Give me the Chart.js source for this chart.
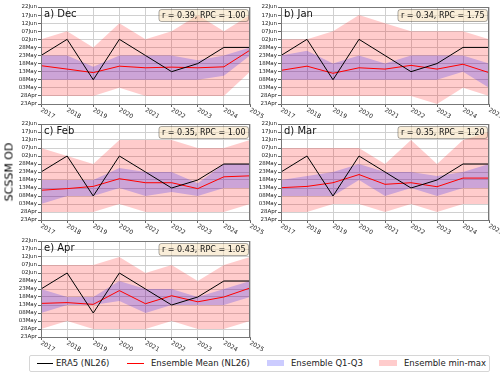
<!DOCTYPE html>
<html>
<head>
<meta charset="utf-8">
<script src="https://cdn.jsdelivr.net/npm/chart.js@4.4.1/dist/chart.umd.min.js"></script>
<style>
  body { margin: 0; background: #fff; font-family: "DejaVu Sans", sans-serif; }
  #wrap { position: relative; width: 500px; height: 377px; overflow: hidden; }
  canvas { position: absolute; }
  #ytitle { position: absolute; left: 8.5px; top: 172px; transform: translate(-50%, -50%) rotate(-90deg);
    font-size: 11px; white-space: nowrap; color: #000; }
  #legend { position: absolute; left: 29px; top: 355px; width: 459px; height: 15px;
    border: 1px solid #d6d6d6; border-radius: 2px; background: #fff; }
  .lg { position: absolute; top: 0; font-size: 8.5px; line-height: 15px; color: #222; white-space: nowrap; }
  .ln { position: absolute; height: 0; top: 7px; border-top: 1px solid; }
  .pt { position: absolute; height: 6px; top: 4px; }
</style>
</head>
<body>
<div id="wrap">
  <canvas id="pa"></canvas>
  <canvas id="pb"></canvas>
  <canvas id="pc"></canvas>
  <canvas id="pd"></canvas>
  <canvas id="pe"></canvas>
  <div id="ytitle">SCSSM OD</div>
  <div id="legend">
    <div class="ln" style="left:7px;width:16px;border-color:#000"></div>
    <div class="lg" style="left:26px">ERA5 (NL26)</div>
    <div class="ln" style="left:97px;width:17px;border-color:#ff0000"></div>
    <div class="lg" style="left:121px">Ensemble Mean (NL26)</div>
    <div class="pt" style="left:237px;width:17px;background:rgba(0,0,255,0.2)"></div>
    <div class="lg" style="left:261px">Ensemble Q1-Q3</div>
    <div class="pt" style="left:349px;width:18px;background:rgba(255,0,0,0.2)"></div>
    <div class="lg" style="left:374px">Ensemble min-max</div>
  </div>
</div>
<script>
// onset dates as days after 23 Apr
const years = ["2017", "2018", "2019", "2020", "2021", "2022", "2023", "2024", "2025"];
const era5 = [30, 40, 15, 40, 30, 20, 25, 35, 35];

const titles = ["a) Dec", "b) Jan", "c) Feb", "d) Mar", "e) Apr"];
const rValues = [0.39, 0.34, 0.35, 0.35, 0.43];
const rpcValues = [1.00, 1.75, 1.00, 1.20, 1.05];

const decMean = [23.7, 21.6, 19.4, 23.4, 22.4, 22.8, 22.4, 23, 33.3];
const decQ1 = [15, 15, 15, 15, 15, 15, 15, 17.5, 30];
const decQ3 = [30, 30, 23, 30, 30, 30, 27, 30, 35];
const decMin = [5, 5, 5, 10, 5, 5, 5, 5, 20];
const decMax = [40, 45, 35, 50, 40, 45, 55, 45, 55];

const janMean = [20.8, 23.4, 19, 22.4, 21.6, 23.9, 21.6, 24.6, 19.4];
const janQ1 = [15, 15, 15, 15, 15, 15, 15, 20, 10];
const janQ3 = [30, 33, 25, 30, 25, 30, 30, 30, 25];
const janMin = [5, 5, 5, 5, 5, 5, 0, 10, 5];
const janMax = [40, 40, 45, 55, 50, 45, 45, 45, 40];

const febMean = [18.6, 19.6, 21, 25.8, 23.3, 23.3, 19.6, 27, 27.6];
const febQ1 = [10, 15, 15, 20, 15, 17.5, 15, 20, 20];
const febQ3 = [25, 25, 25, 32.5, 30, 30, 23, 35, 35];
const febMin = [5, 5, 5, 10, 5, 5, 5, 5, 10];
const febMax = [45, 40, 35, 50, 50, 50, 45, 45, 50];

const marMean = [20.2, 21, 23.3, 28.4, 22.3, 23.3, 20.8, 26.2, 26.2];
const marQ1 = [15, 15, 15, 25, 15, 20, 15, 20, 20];
const marQ3 = [25, 27.5, 30, 35, 30, 30, 27.5, 30, 35];
const marMin = [5, 5, 10, 10, 5, 10, 5, 10, 10];
const marMax = [45, 45, 45, 45, 35, 50, 35, 50, 55];

const aprMean = [21, 21.5, 20.4, 29, 20.8, 25.8, 22, 25, 30.6];
const aprQ1 = [15, 20, 20, 22.5, 15, 20, 20, 20, 25];
const aprQ3 = [30, 25, 25, 35, 30, 30, 25, 30, 35];
const aprMin = [5, 10, 5, 5, 5, 10, 5, 5, 10];
const aprMax = [45, 45, 45, 50, 40, 45, 35, 45, 50];

const months = ["Jan", "Feb", "Mar", "Apr", "May", "Jun", "Jul"];
function dayLabel(v) {
  const d = new Date(2001, 3, 23 + v);
  return String(d.getDate()).padStart(2, "0") + months[d.getMonth()];
}

// canvas box and plot area (page px)
const panels = [
  { id: "pa", cx: 0,   cy: 0,   cw: 270, ch: 118, l: 41,  t: 7,   r: 250, b: 104, d: [decMean, decQ1, decQ3, decMin, decMax] },
  { id: "pb", cx: 252, cy: 0,   cw: 248, ch: 118, l: 281, t: 7,   r: 489, b: 104, d: [janMean, janQ1, janQ3, janMin, janMax] },
  { id: "pc", cx: 0,   cy: 117, cw: 270, ch: 117, l: 41,  t: 124, r: 250, b: 220, d: [febMean, febQ1, febQ3, febMin, febMax] },
  { id: "pd", cx: 252, cy: 117, cw: 248, ch: 117, l: 281, t: 124, r: 489, b: 220, d: [marMean, marQ1, marQ3, marMin, marMax] },
  { id: "pe", cx: 0,   cy: 234, cw: 270, ch: 122, l: 41,  t: 241, r: 250, b: 337, d: [aprMean, aprQ1, aprQ3, aprMin, aprMax] }
];

const decorate = {
  id: "decorate",
  afterDraw(chart, args, o) {
    const ctx = chart.ctx, a = chart.chartArea;
    ctx.save();
    // frame
    ctx.strokeStyle = "#777";
    ctx.lineWidth = 1;
    ctx.strokeRect(Math.round(a.left) + 0.5, Math.round(a.top) + 0.5, Math.round(a.right - a.left) - 1, Math.round(a.bottom - a.top));
    // x labels, rotated
    const xs = chart.scales.x;
    ctx.fillStyle = "#222";
    ctx.font = "6px 'DejaVu Sans'";
    ctx.textAlign = "left";
    ctx.textBaseline = "top";
    years.forEach((y, i) => {
      ctx.save();
      ctx.translate(xs.getPixelForValue(i) + 1.5, a.bottom + 3);
      ctx.rotate(Math.PI / 6);
      ctx.fillText(y, 0, 0);
      ctx.restore();
    });
    // panel title
    ctx.font = "10px 'DejaVu Sans'";
    ctx.fillStyle = "#111";
    ctx.textBaseline = "alphabetic";
    ctx.fillText(o.title, a.left + 3, a.top + 9.5);
    // stats box
    ctx.font = "8px 'DejaVu Sans'";
    const w = ctx.measureText(o.stat).width + 6;
    const bx = a.right - 1.5 - w, by = a.top + 2.5;
    ctx.beginPath();
    ctx.roundRect(bx, by, w, 12, 2.5);
    ctx.fillStyle = "rgba(245,222,179,0.5)";
    ctx.fill();
    ctx.strokeStyle = "rgba(0,0,0,0.4)";
    ctx.lineWidth = 0.8;
    ctx.stroke();
    ctx.fillStyle = "#111";
    ctx.textBaseline = "middle";
    ctx.fillText(o.stat, bx + 3, by + 6.5);
    ctx.restore();
  }
};

panels.forEach((p, k) => {
  const cv = document.getElementById(p.id);
  cv.width = p.cw; cv.height = p.ch;
  cv.style.left = p.cx + "px"; cv.style.top = p.cy + "px";
  const [mean, q1, q3, mn, mx] = p.d;
  const band = { pointRadius: 0, borderWidth: 0, borderColor: "rgba(0,0,0,0)", tension: 0 };
  new Chart(cv, {
    type: "line",
    data: {
      labels: years,
      datasets: [
        { label: "ERA5 (NL26)", data: era5, borderColor: "#000", borderWidth: 1, pointRadius: 0, fill: false },
        { label: "Ensemble Mean (NL26)", data: mean, borderColor: "#ff0000", borderWidth: 1, pointRadius: 0, fill: false },
        Object.assign({ label: "Q3", data: q3, fill: "+1", backgroundColor: "rgba(0,0,255,0.2)" }, band),
        Object.assign({ label: "Q1", data: q1, fill: false }, band),
        Object.assign({ label: "max", data: mx, fill: "+1", backgroundColor: "rgba(255,0,0,0.2)" }, band),
        Object.assign({ label: "min", data: mn, fill: false }, band)
      ]
    },
    options: {
      responsive: false,
      animation: false,
      devicePixelRatio: 1,
      layout: { padding: { left: 0, top: p.t - p.cy, right: p.cx + p.cw - p.r, bottom: 0 } },
      plugins: {
        legend: { display: false },
        tooltip: { enabled: false },
        decorate: { title: titles[k], stat: "r = " + rValues[k].toFixed(2) + ", RPC = " + rpcValues[k].toFixed(2) }
      },
      scales: {
        x: {
          offset: false,
          ticks: { display: false },
          grid: { color: "#d0d0d0", tickColor: "#666", tickLength: 3 },
          border: { color: "#777" },
          afterFit(s) { s.height = p.cy + p.ch - p.b; }
        },
        y: {
          min: 0, max: 60,
          ticks: { stepSize: 5, autoSkip: false, padding: 1, color: "#222", font: { size: 5.5, family: "DejaVu Sans" }, callback: v => dayLabel(v) },
          grid: { color: "#d0d0d0", tickColor: "#666", tickLength: 3 },
          border: { color: "#777" },
          afterFit(s) { s.width = p.l - p.cx; }
        }
      }
    },
    plugins: [decorate]
  });
});
</script>
</body>
</html>
